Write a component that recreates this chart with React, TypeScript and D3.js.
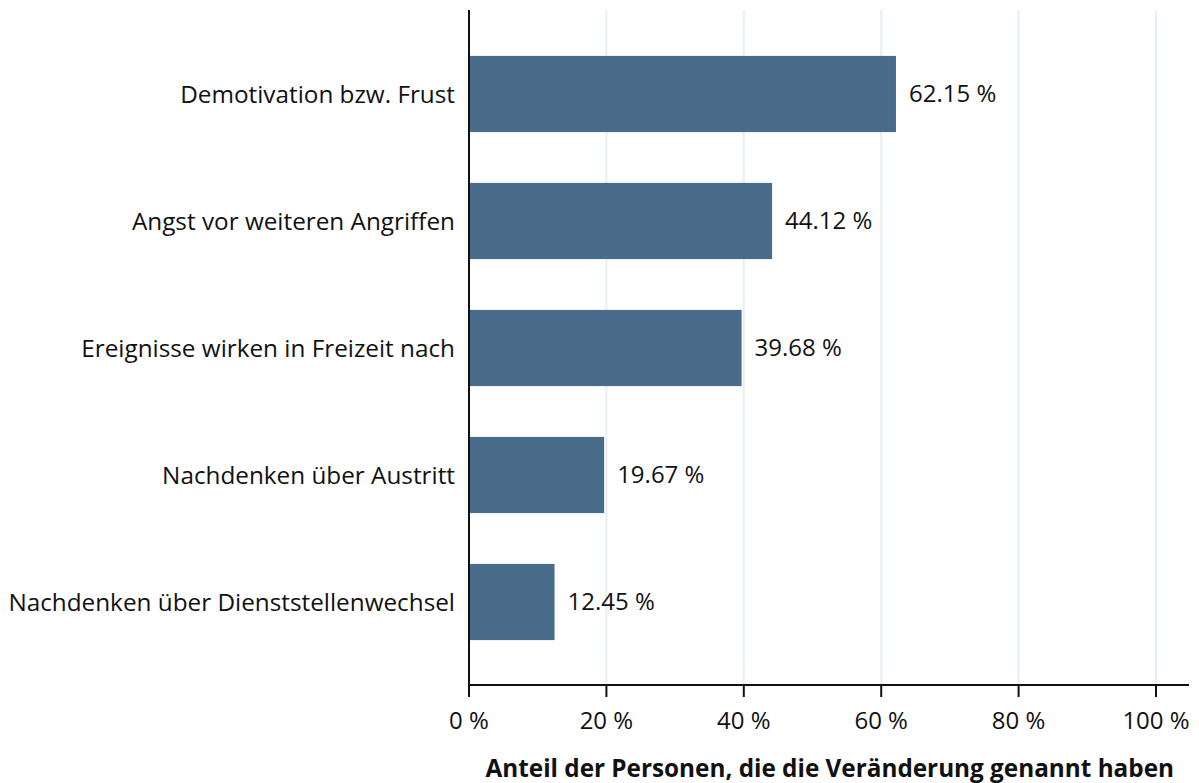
import React from "react";
import * as d3 from "d3";

const categories = [
  "Demotivation bzw. Frust",
  "Angst vor weiteren Angriffen",
  "Ereignisse wirken in Freizeit nach",
  "Nachdenken über Austritt",
  "Nachdenken über Dienststellenwechsel",
];
const values = [62.15, 44.12, 39.68, 19.67, 12.45];
const tickValues = [0, 20, 40, 60, 80, 100];
const xTitle = "Anteil der Personen, die die Veränderung genannt haben";

const W = 1199;
const H = 783;
const FONT = "'Open Sans', 'Noto Sans', sans-serif";

export default function App() {
  const x = d3.scaleLinear().domain([0, 100]).range([469, 1156]);
  const y = d3
    .scaleBand<string>()
    .domain(categories)
    .range([30.5, 665.5])
    .paddingInner(0.4)
    .paddingOuter(0.2);
  const axisY = 685;
  const top = 10;
  const axisRight = 1189;

  return (
    <svg width={W} height={H} style={{ position: "absolute", left: 0, top: 0 }}>
      <rect width={W} height={H} fill="#ffffff" />
      {tickValues.filter((t) => t > 0).map((t) => (
        <line key={"g" + t} x1={x(t)} x2={x(t)} y1={top} y2={axisY} stroke="#e7eff1" strokeWidth={2} />
      ))}
      {categories.map((c, i) => (
        <g key={c}>
          <rect x={x(0)} y={y(c)!} width={x(values[i]) - x(0)} height={y.bandwidth()} fill="#496c8b" />
          <text x={x(values[i]) + 13} y={y(c)! + y.bandwidth() / 2} dy="0.35em" fontFamily={FONT} fontSize={24} fill="#111">
            {values[i].toFixed(2)} %
          </text>
          <text x={455} y={y(c)! + y.bandwidth() / 2} dy="0.35em" textAnchor="end" fontFamily={FONT} fontSize={24.3} fill="#111">
            {c}
          </text>
        </g>
      ))}
      <line x1={x(0)} x2={x(0)} y1={top} y2={axisY + 1} stroke="#111" strokeWidth={2} />
      <line x1={x(0) - 1} x2={axisRight} y1={axisY} y2={axisY} stroke="#111" strokeWidth={2} />
      {tickValues.map((t) => (
        <g key={"t" + t}>
          <line x1={x(t)} x2={x(t)} y1={axisY} y2={axisY + 12} stroke="#111" strokeWidth={2} />
          <text x={x(t)} y={729} textAnchor="middle" fontFamily={FONT} fontSize={24} fill="#111">
            {t} %
          </text>
        </g>
      ))}
      <text x={1174} y={777} textAnchor="end" fontFamily={FONT} fontSize={24.3} fontWeight="bold" fill="#111">
        {xTitle}
      </text>
    </svg>
  );
}
